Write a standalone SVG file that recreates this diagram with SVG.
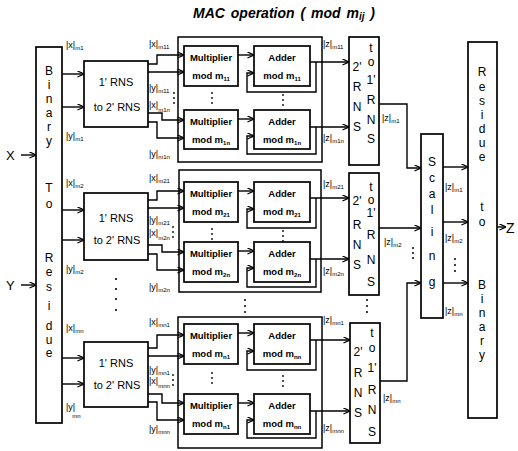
<svg xmlns="http://www.w3.org/2000/svg" width="518" height="451" viewBox="0 0 518 451">
<defs>
<marker id="a" viewBox="0 0 8 8" refX="7.5" refY="4" markerWidth="7" markerHeight="7" orient="auto" markerUnits="userSpaceOnUse">
<path d="M0,0.5 L7.5,4 L0,7.5" fill="none" stroke="#000" stroke-width="1.4"/>
</marker>
</defs>
<style>
.b{fill:#fff;stroke:#000;stroke-width:1.7}
.o{fill:none;stroke:#000;stroke-width:1.5}
.c{fill:none;stroke:#000;stroke-width:1.4}
.ar{marker-end:url(#a)}
text{font-family:"Liberation Sans",Arial,sans-serif;fill:#000}
.bx{font-size:9.5px;text-anchor:middle;font-weight:bold}
.v{font-size:12px;text-anchor:middle}
.l{font-size:9px}
.s{font-size:6px}
.d{fill:#000}
</style>
<rect width="518" height="451" fill="#fff"/>

<g id="title"><text x="193" y="18" font-size="14" font-weight="bold" font-style="italic" word-spacing="2">MAC  operation  ( mod m<tspan font-size="10" dy="2">ij</tspan><tspan dy="-2"> )</tspan></text></g>

<g id="inputs">
<text x="6" y="160" font-size="13">X</text>
<text x="6" y="290" font-size="13">Y</text>
</g>

<g id="binary-to-residue">
<rect class="b" x="36" y="47" width="26" height="376"/>
<text class="v" x="49" y="75">B</text><text class="v" x="49" y="89">i</text><text class="v" x="49" y="103">n</text><text class="v" x="49" y="117">a</text><text class="v" x="49" y="131">r</text><text class="v" x="49" y="145">y</text>
<text class="v" x="49" y="192">T</text><text class="v" x="49" y="208">o</text>
<text class="v" x="49" y="262">R</text><text class="v" x="49" y="276">e</text><text class="v" x="49" y="291">s</text><text class="v" x="49" y="310">i</text><text class="v" x="49" y="330">d</text><text class="v" x="49" y="344">u</text><text class="v" x="49" y="357">e</text>
</g>

<g id="rns1"><rect class="b" x="84" y="61" width="64" height="66"/><text x="116" y="86" font-size="11" text-anchor="middle">1'  RNS</text><text x="117" y="111" font-size="11" text-anchor="middle">to  2' RNS</text></g>
<g id="rns2"><rect class="b" x="84" y="193" width="64" height="67"/><text x="116" y="222" font-size="11" text-anchor="middle">1'  RNS</text><text x="117" y="244" font-size="11" text-anchor="middle">to  2' RNS</text></g>
<g id="rns3"><rect class="b" x="84" y="342" width="64" height="65"/><text x="116" y="367" font-size="11" text-anchor="middle">1'  RNS</text><text x="117" y="389" font-size="11" text-anchor="middle">to  2' RNS</text></g>

<g id="mac1">
<rect class="o" x="178" y="37" width="144" height="125"/>
<g id="mult11"><rect class="b" x="184" y="46" width="54" height="40"/><text class="bx" x="211" y="61">Multiplier</text><text class="bx" x="211" y="79">mod m<tspan class="s" dy="2">11</tspan></text></g>
<g id="mult1n"><rect class="b" x="184" y="110" width="54" height="39"/><text class="bx" x="211" y="125">Multiplier</text><text class="bx" x="211" y="143">mod m<tspan class="s" dy="2">1n</tspan></text></g>
<g id="add11"><rect class="b" x="254" y="46" width="56" height="40"/><text class="bx" x="282" y="61">Adder</text><text class="bx" x="282" y="79">mod m<tspan class="s" dy="2">11</tspan></text></g>
<g id="add1n"><rect class="b" x="254" y="110" width="56" height="39"/><text class="bx" x="282" y="125">Adder</text><text class="bx" x="282" y="143">mod m<tspan class="s" dy="2">1n</tspan></text></g>
</g>

<g id="mac2">
<rect class="o" x="179" y="170" width="142" height="122"/>
<g id="mult21"><rect class="b" x="184" y="182" width="54" height="40"/><text class="bx" x="211" y="197">Multiplier</text><text class="bx" x="211" y="215">mod m<tspan class="s" dy="2">21</tspan></text></g>
<g id="mult2n"><rect class="b" x="184" y="242" width="54" height="40"/><text class="bx" x="211" y="257">Multiplier</text><text class="bx" x="211" y="275">mod m<tspan class="s" dy="2">2n</tspan></text></g>
<g id="add21"><rect class="b" x="254" y="182" width="56" height="40"/><text class="bx" x="282" y="197">Adder</text><text class="bx" x="282" y="215">mod m<tspan class="s" dy="2">21</tspan></text></g>
<g id="add2n"><rect class="b" x="254" y="242" width="56" height="40"/><text class="bx" x="282" y="257">Adder</text><text class="bx" x="282" y="275">mod m<tspan class="s" dy="2">2n</tspan></text></g>
</g>

<g id="mac3">
<rect class="o" x="178" y="317" width="144" height="131"/>
<g id="multn1"><rect class="b" x="184" y="324" width="54" height="40"/><text class="bx" x="211" y="339">Multiplier</text><text class="bx" x="211" y="357">mod m<tspan class="s" dy="2">n1</tspan></text></g>
<g id="multnn"><rect class="b" x="184" y="394" width="54" height="40"/><text class="bx" x="211" y="409">Multiplier</text><text class="bx" x="211" y="427">mod m<tspan class="s" dy="2">n1</tspan></text></g>
<g id="addn1"><rect class="b" x="254" y="324" width="56" height="40"/><text class="bx" x="282" y="339">Adder</text><text class="bx" x="282" y="357">mod m<tspan class="s" dy="2">nn</tspan></text></g>
<g id="addnn"><rect class="b" x="254" y="394" width="56" height="40"/><text class="bx" x="282" y="409">Adder</text><text class="bx" x="282" y="427">mod m<tspan class="s" dy="2">nn</tspan></text></g>
</g>

<g id="conv1"><rect class="b" x="349" y="37" width="30" height="128"/>
<text class="v" x="357" y="71">2'</text><text class="v" x="357" y="91">R</text><text class="v" x="357" y="111">N</text><text class="v" x="357" y="131">S</text>
<text class="v" x="371" y="52">t</text><text class="v" x="371" y="66">o</text><text class="v" x="371" y="84">1'</text><text class="v" x="371" y="104">R</text><text class="v" x="371" y="124">N</text><text class="v" x="371" y="143">S</text></g>
<g id="conv2"><rect class="b" x="349" y="173" width="30" height="122"/>
<text class="v" x="357" y="205">2'</text><text class="v" x="357" y="229">R</text><text class="v" x="357" y="249">N</text><text class="v" x="357" y="269">S</text>
<text class="v" x="371" y="191">t</text><text class="v" x="371" y="204">o</text><text class="v" x="371" y="217">1'</text><text class="v" x="371" y="239">R</text><text class="v" x="371" y="264">N</text><text class="v" x="371" y="286">S</text></g>
<g id="conv3"><rect class="b" x="350" y="323" width="30" height="120"/>
<text class="v" x="358" y="356">2'</text><text class="v" x="358" y="377">R</text><text class="v" x="358" y="397">N</text><text class="v" x="358" y="417">S</text>
<text class="v" x="372" y="337">t</text><text class="v" x="372" y="352">o</text><text class="v" x="372" y="372">1'</text><text class="v" x="372" y="394">R</text><text class="v" x="372" y="414">N</text><text class="v" x="372" y="436">S</text></g>

<g id="scaling"><rect class="b" x="421" y="134" width="22" height="184"/>
<text class="v" x="432" y="166">S</text><text class="v" x="432" y="182">c</text><text class="v" x="432" y="198">a</text><text class="v" x="432" y="214">l</text><text class="v" x="432" y="236">i</text><text class="v" x="432" y="260">n</text><text class="v" x="432" y="286">g</text></g>

<g id="residue-to-binary"><rect class="b" x="468" y="42" width="29" height="376"/>
<text class="v" x="482" y="76">R</text><text class="v" x="482" y="91">e</text><text class="v" x="482" y="105">s</text><text class="v" x="482" y="119">i</text><text class="v" x="482" y="133">d</text><text class="v" x="482" y="147">u</text><text class="v" x="482" y="161">e</text>
<text class="v" x="482" y="211">t</text><text class="v" x="482" y="226">o</text>
<text class="v" x="482" y="289">B</text><text class="v" x="482" y="303">i</text><text class="v" x="482" y="317">n</text><text class="v" x="482" y="331">a</text><text class="v" x="482" y="345">r</text><text class="v" x="482" y="359">y</text></g>

<g id="output"><text x="506" y="233" font-size="14">Z</text></g>

<g id="connectors">
<path class="c ar" d="M21,155 H36"/><path class="c ar" d="M21,285 H36"/>
<path class="c ar" d="M62,74 H84"/><path class="c ar" d="M62,107 H84"/>
<path class="c ar" d="M62,210 H84"/><path class="c ar" d="M62,240 H84"/>
<path class="c ar" d="M62,358 H84"/><path class="c ar" d="M62,384 H84"/>
<path class="c ar" d="M148,64 H157 V55 H184"/><path class="c ar" d="M148,72 H184"/>
<path class="c ar" d="M148,113 H162 V120 H184"/><path class="c ar" d="M148,122 H157 V138 H184"/>
<path class="c ar" d="M238,55 H254"/><path class="c ar" d="M238,119 H254"/>
<path class="c ar" d="M310,62 H349"/><path class="c ar" d="M316,62 V92 H247 V73 H254"/>
<path class="c ar" d="M310,127 H349"/><path class="c ar" d="M316,127 V154 H247 V136 H254"/>
<path class="c ar" d="M148,200 H157 V191 H184"/><path class="c ar" d="M148,208 H184"/>
<path class="c ar" d="M148,245 H162 V252 H184"/><path class="c ar" d="M148,254 H157 V270 H184"/>
<path class="c ar" d="M238,191 H254"/><path class="c ar" d="M238,251 H254"/>
<path class="c ar" d="M310,198 H349"/><path class="c ar" d="M316,198 V228 H247 V209 H254"/>
<path class="c ar" d="M310,259 H349"/><path class="c ar" d="M316,259 V287 H247 V268 H254"/>
<path class="c ar" d="M148,348 H157 V335 H184"/><path class="c ar" d="M148,356 H184"/>
<path class="c ar" d="M148,394 H162 V403 H184"/><path class="c ar" d="M148,402 H157 V420 H184"/>
<path class="c ar" d="M238,333 H254"/><path class="c ar" d="M238,403 H254"/>
<path class="c ar" d="M310,340 H350"/><path class="c ar" d="M316,340 V370 H247 V351 H254"/>
<path class="c ar" d="M310,411 H350"/><path class="c ar" d="M316,411 V438 H247 V420 H254"/>
<path class="c ar" d="M379,104 H407 V168 H421"/><path class="c ar" d="M379,228 H421"/><path class="c ar" d="M380,381 H407 V283 H421"/>
<path class="c ar" d="M443,167 H468"/><path class="c ar" d="M443,222 H468"/><path class="c ar" d="M443,283 H468"/>
<path class="c ar" d="M497,227 H506"/>
</g>

<g id="labels">
<text class="l" x="66" y="48">|x|<tspan class="s" dy="2">m1</tspan></text>
<text class="l" x="66" y="139">|y|<tspan class="s" dy="2">m1</tspan></text>
<text class="l" x="66" y="186">|x|<tspan class="s" dy="2">m2</tspan></text>
<text class="l" x="66" y="272">|y|<tspan class="s" dy="2">m2</tspan></text>
<text class="l" x="66" y="331">|x|<tspan class="s" dy="2">mn</tspan></text>
<text class="l" x="66" y="410">|y|<tspan class="s" dy="8" dx="-3">mn</tspan></text>

<text class="l" x="149" y="47">|x|<tspan class="s" dy="2">m11</tspan></text>
<text class="l" x="149" y="91">|y|<tspan class="s" dy="2">m11</tspan></text>
<text class="l" x="149" y="108">|x|<tspan class="s" dy="4">m1n</tspan></text>
<text class="l" x="149" y="157">|y|<tspan class="s" dy="2">m1n</tspan></text>
<text class="l" x="149" y="181">|x|<tspan class="s" dy="2">m21</tspan></text>
<text class="l" x="149" y="223">|y|<tspan class="s" dy="2">m21</tspan></text>
<text class="l" x="149" y="236">|x|<tspan class="s" dy="4">m2n</tspan></text>
<text class="l" x="149" y="290">|y|<tspan class="s" dy="2">m2n</tspan></text>
<text class="l" x="149" y="325">|x|<tspan class="s" dy="2">mn1</tspan></text>
<text class="l" x="149" y="373">|y|<tspan class="s" dy="2">mn1</tspan></text>
<text class="l" x="149" y="384">|x|<tspan class="s" dy="4">mnn</tspan></text>
<text class="l" x="149" y="432">|y|<tspan class="s" dy="2">mnn</tspan></text>

<text class="l" x="323" y="47">|z|<tspan class="s" dy="2">m11</tspan></text>
<text class="l" x="323" y="141">|z|<tspan class="s" dy="2">m1n</tspan></text>
<text class="l" x="323" y="187">|z|<tspan class="s" dy="2">m21</tspan></text>
<text class="l" x="323" y="274">|z|<tspan class="s" dy="2">m2n</tspan></text>
<text class="l" x="323" y="323">|z|<tspan class="s" dy="2">mn1</tspan></text>
<text class="l" x="323" y="431">|z|<tspan class="s" dy="2">mnn</tspan></text>

<text class="l" x="382" y="121">|z|<tspan class="s" dy="2">m1</tspan></text>
<text class="l" x="384" y="245">|z|<tspan class="s" dy="2">m2</tspan></text>
<text class="l" x="383" y="401">|z|<tspan class="s" dy="2">mn</tspan></text>
<text class="l" x="445" y="190">|z|<tspan class="s" dy="2">m1</tspan></text>
<text class="l" x="445" y="241">|z|<tspan class="s" dy="2">m2</tspan></text>
<text class="l" x="445" y="314">|z|<tspan class="s" dy="2">mn</tspan></text>
</g>

<g id="ellipses" class="d">
<circle cx="174" cy="93" r="0.9"/><circle cx="174" cy="98" r="0.9"/><circle cx="174" cy="103" r="0.9"/>
<circle cx="212" cy="93" r="0.9"/><circle cx="212" cy="98" r="0.9"/><circle cx="212" cy="103" r="0.9"/>
<circle cx="283" cy="95" r="0.9"/><circle cx="283" cy="100" r="0.9"/><circle cx="283" cy="105" r="0.9"/>
<circle cx="173" cy="227" r="0.9"/><circle cx="173" cy="232" r="0.9"/><circle cx="173" cy="237" r="0.9"/>
<circle cx="212" cy="229" r="0.9"/><circle cx="212" cy="234" r="0.9"/><circle cx="212" cy="239" r="0.9"/>
<circle cx="283" cy="231" r="0.9"/><circle cx="283" cy="236" r="0.9"/><circle cx="283" cy="241" r="0.9"/>
<circle cx="173" cy="375" r="0.9"/><circle cx="173" cy="380" r="0.9"/><circle cx="173" cy="385" r="0.9"/>
<circle cx="212" cy="373" r="0.9"/><circle cx="212" cy="378" r="0.9"/><circle cx="212" cy="383" r="0.9"/>
<circle cx="283" cy="376" r="0.9"/><circle cx="283" cy="381" r="0.9"/><circle cx="283" cy="386" r="0.9"/>
<circle cx="116" cy="279" r="1.1"/><circle cx="116" cy="289" r="1.1"/><circle cx="116" cy="299" r="1.1"/><circle cx="116" cy="310" r="1.1"/>
<circle cx="245" cy="300" r="1"/><circle cx="245" cy="306" r="1"/><circle cx="245" cy="312" r="1"/>
<circle cx="367" cy="300" r="1"/><circle cx="367" cy="306" r="1"/><circle cx="367" cy="312" r="1"/>
<circle cx="413" cy="248" r="1"/><circle cx="413" cy="253" r="1"/><circle cx="413" cy="258" r="1"/>
<circle cx="455" cy="259" r="1"/><circle cx="455" cy="265" r="1"/><circle cx="455" cy="271" r="1"/>
</g>
</svg>
